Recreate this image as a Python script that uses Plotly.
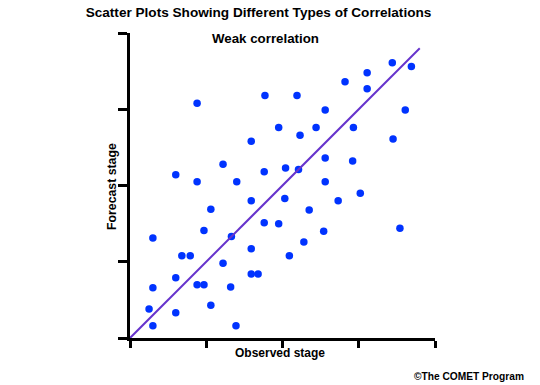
import plotly.graph_objects as go

# Observed stage (x) and forecast stage (y) values, axis units 0..4
observed = [3.44, 3.69, 3.11, 2.82, 3.11, 0.88, 1.77, 2.19, 2.56, 3.61,
            1.59, 1.95, 2.44, 2.93, 2.23, 3.45, 1.22, 0.60, 0.88, 1.40,
            1.76, 2.04, 2.21, 2.56, 2.92, 2.56, 1.59, 1.06, 2.03, 2.73,
            3.02, 2.35, 1.76, 1.95, 2.54, 3.54, 0.30, 0.97, 1.33, 2.28,
            0.68, 0.79, 1.59, 2.09, 1.22, 1.59, 1.68, 0.60, 0.30, 0.88,
            0.97, 1.32, 0.25, 1.06, 0.60, 0.30, 1.39]
forecast = [3.61, 3.56, 3.48, 3.36, 3.27, 3.08, 3.18, 3.18, 2.99, 2.99,
            2.58, 2.76, 2.76, 2.76, 2.66, 2.61, 2.28, 2.14, 2.05, 2.05,
            2.18, 2.23, 2.21, 2.36, 2.32, 2.05, 1.80, 1.69, 1.83, 1.80,
            1.90, 1.68, 1.51, 1.50, 1.40, 1.44, 1.31, 1.41, 1.33, 1.26,
            1.08, 1.08, 1.17, 1.08, 0.98, 0.84, 0.84, 0.79, 0.66, 0.70,
            0.70, 0.67, 0.38, 0.43, 0.33, 0.16, 0.16]

# Perfect-forecast reference line (y = x)
fit_x = [0, 3.80]
fit_y = [0, 3.80]

tick_vals = [0, 1, 2, 3, 4]

FONT = "Liberation Sans, Arial, sans-serif"

fig = go.Figure()
fig.add_trace(go.Scatter(x=observed, y=forecast, mode="markers",
                         marker=dict(color="#0033FF", size=7.5, line=dict(width=0)),
                         hoverinfo="skip", showlegend=False))
fig.add_trace(go.Scatter(x=fit_x, y=fit_y, mode="lines",
                         line=dict(color="#6633CC", width=2),
                         hoverinfo="skip", showlegend=False))

axis_common = dict(range=[0, 4], tickvals=tick_vals, showticklabels=False,
                   showgrid=False, zeroline=False, showline=True,
                   linecolor="black", linewidth=3, ticks="outside",
                   tickcolor="black", tickwidth=2.5)

fig.update_layout(
    width=540, height=385,
    margin=dict(l=130, r=105, t=33, b=47),
    paper_bgcolor="white", plot_bgcolor="white",
    font=dict(family=FONT, color="black", size=12),
    xaxis=dict(**axis_common, ticklen=7),
    yaxis=dict(**axis_common, ticklen=9),
    title=dict(text="<b>Scatter Plots Showing Different Types of Correlations</b>",
               xref="container", yref="container",
               x=258.5 / 540, y=1 - 12 / 385, xanchor="center", yanchor="middle",
               font=dict(family=FONT, size=13.6, color="black")),
    annotations=[
        dict(text="<b>Weak correlation</b>", xref="paper", yref="paper",
             x=(265 - 130) / 305, y=(338 - 38) / 305, showarrow=False,
             xanchor="center", yanchor="middle", font=dict(size=13.3)),
        dict(text="<b>Forecast stage</b>", xref="paper", yref="paper",
             x=(112 - 130) / 305, y=(338 - 187) / 305, showarrow=False,
             textangle=-90, xanchor="center", yanchor="middle", font=dict(size=12.3)),
        dict(text="<b>Observed stage</b>", xref="paper", yref="paper",
             x=(279.5 - 130) / 305, y=(338 - 353) / 305, showarrow=False,
             xanchor="center", yanchor="middle", font=dict(size=12)),
        dict(text="<b>©The COMET Program</b>", xref="paper", yref="paper",
             x=(469 - 130) / 305, y=(338 - 376) / 305, showarrow=False,
             xanchor="center", yanchor="middle", font=dict(size=10.2)),
    ],
)

fig.write_html("out.html", config={"displayModeBar": False},
               post_script="document.body.style.margin='0';")
